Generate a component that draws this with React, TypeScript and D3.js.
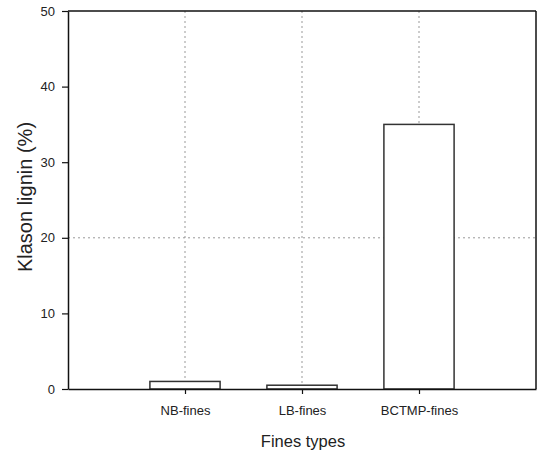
import React, { useEffect, useRef } from 'react';
import * as d3 from 'd3';

const categories = ['NB-fines', 'LB-fines', 'BCTMP-fines'];
const ligninValues = [1.0, 0.5, 35.0];
const yTicks = [0, 10, 20, 30, 40, 50];
const yGridValues = [20];

const App = () => {
  const ref = useRef<SVGSVGElement | null>(null);

  useEffect(() => {
    const width = 540;
    const height = 454;
    const margin = { top: 11, left: 68, bottom: 65, right: 4 };
    const iwidth = width - margin.left - margin.right;
    const iheight = height - margin.top - margin.bottom;

    const svg = d3.select(ref.current);
    svg.selectAll('*').remove();
    svg.attr('width', width).attr('height', height);

    const g = svg
      .append('g')
      .attr('transform', `translate(${margin.left},${margin.top})`);

    const y = d3.scaleLinear().domain([0, 50]).range([iheight, 0]);
    const x = d3.scalePoint<string>().domain(categories).range([0, iwidth]).padding(1);
    const barW = x.step() * 0.6;

    // dotted grid
    g.selectAll('.vgrid')
      .data(categories)
      .enter()
      .append('line')
      .attr('x1', (d) => x(d)!)
      .attr('x2', (d) => x(d)!)
      .attr('y1', 0)
      .attr('y2', iheight)
      .attr('stroke', '#999')
      .attr('stroke-width', 1)
      .attr('stroke-dasharray', '2,3');

    g.selectAll('.hgrid')
      .data(yGridValues)
      .enter()
      .append('line')
      .attr('x1', 0)
      .attr('x2', iwidth)
      .attr('y1', (d) => y(d))
      .attr('y2', (d) => y(d))
      .attr('stroke', '#999')
      .attr('stroke-width', 1)
      .attr('stroke-dasharray', '2,3');

    // bars
    g.selectAll('.bar')
      .data(categories)
      .enter()
      .append('rect')
      .attr('x', (d) => x(d)! - barW / 2)
      .attr('y', (d, i) => y(ligninValues[i]))
      .attr('width', barW)
      .attr('height', (d, i) => iheight - y(ligninValues[i]))
      .attr('fill', 'white')
      .attr('stroke', '#333')
      .attr('stroke-width', 1.5);

    // frame
    g.append('line').attr('x1', 0).attr('x2', iwidth).attr('y1', 0).attr('y2', 0)
      .attr('stroke', '#111').attr('stroke-width', 1.5);
    g.append('line').attr('x1', iwidth).attr('x2', iwidth).attr('y1', 0).attr('y2', iheight)
      .attr('stroke', '#111').attr('stroke-width', 1.5);

    const font = 'Arial, "Liberation Sans", sans-serif';

    const yAxis = g
      .append('g')
      .call(d3.axisLeft(y).tickValues(yTicks).tickSize(6).tickSizeOuter(0).tickPadding(7));
    const xAxis = g
      .append('g')
      .attr('transform', `translate(0,${iheight})`)
      .call(d3.axisBottom(x).tickSize(5).tickSizeOuter(0).tickPadding(12));

    [yAxis, xAxis].forEach((a) => {
      a.select('.domain').attr('stroke', '#111').attr('stroke-width', 1.5);
      a.selectAll('.tick line').attr('stroke', '#111').attr('stroke-width', 1.2);
      a.selectAll('.tick text')
        .attr('font-family', font)
        .attr('font-size', 13)
        .attr('fill', '#222');
    });

    svg
      .append('text')
      .attr('transform', `translate(32,197) rotate(-90)`)
      .attr('text-anchor', 'middle')
      .attr('font-family', font)
      .attr('font-size', 20)
      .attr('fill', '#222')
      .text('Klason lignin (%)');

    svg
      .append('text')
      .attr('x', 303)
      .attr('y', 447)
      .attr('text-anchor', 'middle')
      .attr('font-family', font)
      .attr('font-size', 16.5)
      .attr('fill', '#222')
      .text('Fines types');
  }, []);

  return (
    <div style={{ position: 'absolute', left: 0, top: 0 }}>
      <svg ref={ref}></svg>
    </div>
  );
};

export default App;
